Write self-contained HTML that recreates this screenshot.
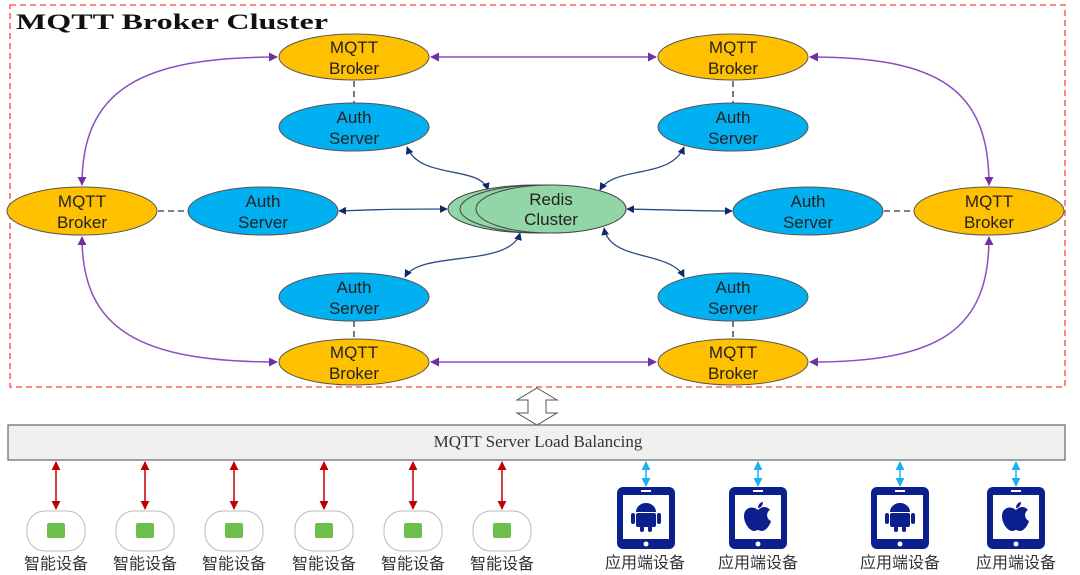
<!DOCTYPE html>
<html><head><meta charset="utf-8"><style>body{margin:0;background:#fff}svg{display:block}</style></head><body>
<svg width="1080" height="575" viewBox="0 0 1080 575" xmlns="http://www.w3.org/2000/svg" font-family="'Liberation Sans','Noto Sans CJK SC',sans-serif">
<defs>
<marker id="mp" viewBox="0 0 10 10" refX="9" refY="5" markerWidth="6" markerHeight="6" orient="auto-start-reverse"><path d="M0,0L10,5L0,10z" fill="#7030a0"/></marker>
<marker id="mn" viewBox="0 0 10 10" refX="9" refY="5" markerWidth="6" markerHeight="6" orient="auto-start-reverse"><path d="M0,0L10,5L0,10z" fill="#0f2a6b"/></marker>
<marker id="mr" viewBox="0 0 10 10" refX="9" refY="5" markerWidth="6" markerHeight="6" orient="auto-start-reverse"><path d="M0,0L10,5L0,10z" fill="#c00000"/></marker>
<marker id="mb" viewBox="0 0 10 10" refX="9" refY="5" markerWidth="6" markerHeight="6" orient="auto-start-reverse"><path d="M0,0L10,5L0,10z" fill="#1ab0f0"/></marker>
</defs>
<rect x="10" y="5" width="1055" height="382" fill="none" stroke="#ff4040" stroke-width="1.3" stroke-dasharray="6,4"/>
<text x="16" y="29" font-family="'Liberation Serif',serif" font-weight="bold" font-size="22" fill="#111" textLength="312" lengthAdjust="spacingAndGlyphs">MQTT Broker Cluster</text>
<g fill="none" stroke="#8a4fbf" stroke-width="1.5" marker-start="url(#mp)" marker-end="url(#mp)">
<path d="M277,57 C140,57 82,90 82,185"/>
<path d="M810,57 C940,57 989,90 989,185"/>
<path d="M82,237 C82,330 140,362 277,362"/>
<path d="M989,237 C989,330 940,362 810,362"/>
<path d="M431,57 L656,57"/>
<path d="M431,362 L656,362"/>
</g>
<g stroke="#333" stroke-width="1.3" stroke-dasharray="6,4">
<line x1="354" y1="81" x2="354" y2="103"/><line x1="733" y1="81" x2="733" y2="103"/>
<line x1="354" y1="321" x2="354" y2="338"/><line x1="733" y1="321" x2="733" y2="338"/>
<line x1="158" y1="211" x2="188" y2="211"/><line x1="884" y1="211" x2="913" y2="211"/>
</g>
<g fill="none" stroke="#2f4a88" stroke-width="1.3" marker-start="url(#mn)" marker-end="url(#mn)">
<path d="M339,211 C390,209 410,209 447,209"/>
<path d="M627,209 C670,210 700,211 732,211"/>
<path d="M407,147 C420,180 480,165 488,190"/>
<path d="M684,147 C670,180 615,165 600,190"/>
<path d="M405,277 C420,250 510,268 520,233"/>
<path d="M684,277 C670,250 610,262 604,228"/>
</g>
<ellipse cx="537" cy="209" rx="89" ry="24" fill="#92d6a8" stroke="#444" stroke-width="1"/>
<ellipse cx="543" cy="209" rx="83" ry="24" fill="#92d6a8" stroke="#444" stroke-width="1"/>
<ellipse cx="551" cy="209" rx="75" ry="24" fill="#92d6a8" stroke="#444" stroke-width="1"/>
<g font-size="17" fill="#222" text-anchor="middle">
<text x="551" y="205">Redis</text><text x="551" y="225">Cluster</text>
</g>
<g fill="#ffc000" stroke="#555" stroke-width="1">
<ellipse cx="354" cy="57" rx="75" ry="23"/><ellipse cx="733" cy="57" rx="75" ry="23"/>
<ellipse cx="82" cy="211" rx="75" ry="24"/><ellipse cx="989" cy="211" rx="75" ry="24"/>
<ellipse cx="354" cy="362" rx="75" ry="23"/><ellipse cx="733" cy="362" rx="75" ry="23"/>
</g>
<g fill="#00b0f0" stroke="#555" stroke-width="1">
<ellipse cx="354" cy="127" rx="75" ry="24"/><ellipse cx="733" cy="127" rx="75" ry="24"/>
<ellipse cx="263" cy="211" rx="75" ry="24"/><ellipse cx="808" cy="211" rx="75" ry="24"/>
<ellipse cx="354" cy="297" rx="75" ry="24"/><ellipse cx="733" cy="297" rx="75" ry="24"/>
</g>
<g font-size="17" fill="#222" text-anchor="middle">
<text x="354" y="53">MQTT</text><text x="354" y="74">Broker</text>
<text x="733" y="53">MQTT</text><text x="733" y="74">Broker</text>
<text x="82" y="207">MQTT</text><text x="82" y="228">Broker</text>
<text x="989" y="207">MQTT</text><text x="989" y="228">Broker</text>
<text x="354" y="358">MQTT</text><text x="354" y="379">Broker</text>
<text x="733" y="358">MQTT</text><text x="733" y="379">Broker</text>
<text x="354" y="123">Auth</text><text x="354" y="144">Server</text>
<text x="733" y="123">Auth</text><text x="733" y="144">Server</text>
<text x="263" y="207">Auth</text><text x="263" y="228">Server</text>
<text x="808" y="207">Auth</text><text x="808" y="228">Server</text>
<text x="354" y="293">Auth</text><text x="354" y="314">Server</text>
<text x="733" y="293">Auth</text><text x="733" y="314">Server</text>
</g>
<path d="M537,388 L557,400 L546,400 L546,413 L557,413 L537,425 L517,413 L528,413 L528,400 L517,400 Z" fill="#fff" stroke="#555" stroke-width="1"/>
<rect x="8" y="425" width="1057" height="35" fill="#f0f0f0" stroke="#666" stroke-width="1.2"/>
<text x="538" y="447" text-anchor="middle" font-family="'Liberation Serif',serif" font-size="17" fill="#333">MQTT Server Load Balancing</text>
<g stroke="#c00000" stroke-width="1.5" marker-start="url(#mr)" marker-end="url(#mr)">
<line x1="56" y1="462" x2="56" y2="509"/><line x1="145" y1="462" x2="145" y2="509"/>
<line x1="234" y1="462" x2="234" y2="509"/><line x1="324" y1="462" x2="324" y2="509"/>
<line x1="413" y1="462" x2="413" y2="509"/><line x1="502" y1="462" x2="502" y2="509"/>
</g>
<g>
<g transform="translate(56,0)"><rect x="-29" y="511" width="58" height="40" rx="18" fill="#fff" stroke="#bbb"/><rect x="-9" y="523" width="18" height="15" rx="2" fill="#6cbf4a"/></g>
<g transform="translate(145,0)"><rect x="-29" y="511" width="58" height="40" rx="18" fill="#fff" stroke="#bbb"/><rect x="-9" y="523" width="18" height="15" rx="2" fill="#6cbf4a"/></g>
<g transform="translate(234,0)"><rect x="-29" y="511" width="58" height="40" rx="18" fill="#fff" stroke="#bbb"/><rect x="-9" y="523" width="18" height="15" rx="2" fill="#6cbf4a"/></g>
<g transform="translate(324,0)"><rect x="-29" y="511" width="58" height="40" rx="18" fill="#fff" stroke="#bbb"/><rect x="-9" y="523" width="18" height="15" rx="2" fill="#6cbf4a"/></g>
<g transform="translate(413,0)"><rect x="-29" y="511" width="58" height="40" rx="18" fill="#fff" stroke="#bbb"/><rect x="-9" y="523" width="18" height="15" rx="2" fill="#6cbf4a"/></g>
<g transform="translate(502,0)"><rect x="-29" y="511" width="58" height="40" rx="18" fill="#fff" stroke="#bbb"/><rect x="-9" y="523" width="18" height="15" rx="2" fill="#6cbf4a"/></g>
</g>
<g font-size="16" fill="#333" text-anchor="middle">
<text x="56" y="569">智能设备</text><text x="145" y="569">智能设备</text><text x="234" y="569">智能设备</text>
<text x="324" y="569">智能设备</text><text x="413" y="569">智能设备</text><text x="502" y="569">智能设备</text>
<text x="645" y="568">应用端设备</text><text x="758" y="568">应用端设备</text>
<text x="900" y="568">应用端设备</text><text x="1016" y="568">应用端设备</text>
</g>
<g stroke="#1ab0f0" stroke-width="1.5" marker-start="url(#mb)" marker-end="url(#mb)">
<line x1="646" y1="462" x2="646" y2="486"/><line x1="758" y1="462" x2="758" y2="486"/>
<line x1="900" y1="462" x2="900" y2="486"/><line x1="1016" y1="462" x2="1016" y2="486"/>
</g>
<g fill="#0b1f8f">
<g transform="translate(646,0)"><rect x="-29" y="487" width="58" height="62" rx="6"/><rect x="-23" y="495" width="46" height="44" fill="#fff"/><circle cx="0" cy="544" r="2.5" fill="#fff"/><rect x="-5" y="490" width="10" height="2" fill="#fff"/>
<path d="M-10,512 a10,9 0 0 1 20,0z"/><rect x="-10" y="513" width="20" height="14" rx="2"/><rect x="-15" y="513" width="4" height="11" rx="2"/><rect x="11" y="513" width="4" height="11" rx="2"/><rect x="-6" y="526" width="4" height="6" rx="2"/><rect x="2" y="526" width="4" height="6" rx="2"/></g>
<g transform="translate(758,0)"><rect x="-29" y="487" width="58" height="62" rx="6"/><rect x="-23" y="495" width="46" height="44" fill="#fff"/><circle cx="0" cy="544" r="2.5" fill="#fff"/><rect x="-5" y="490" width="10" height="2" fill="#fff"/>
<path d="M0,510 C-6,505 -14,508 -14,516 C-14,524 -8,531 -4,531 C-2,531 -1,530 0,530 C1,530 2,531 4,531 C8,531 12,525 13,521 C8,519 8,512 12,510 C9,506 4,506 0,510z"/><path d="M0,508 C0,504 3,502 5,502 C5,505 3,508 0,508z"/></g>
<g transform="translate(900,0)"><rect x="-29" y="487" width="58" height="62" rx="6"/><rect x="-23" y="495" width="46" height="44" fill="#fff"/><circle cx="0" cy="544" r="2.5" fill="#fff"/><rect x="-5" y="490" width="10" height="2" fill="#fff"/>
<path d="M-10,512 a10,9 0 0 1 20,0z"/><rect x="-10" y="513" width="20" height="14" rx="2"/><rect x="-15" y="513" width="4" height="11" rx="2"/><rect x="11" y="513" width="4" height="11" rx="2"/><rect x="-6" y="526" width="4" height="6" rx="2"/><rect x="2" y="526" width="4" height="6" rx="2"/></g>
<g transform="translate(1016,0)"><rect x="-29" y="487" width="58" height="62" rx="6"/><rect x="-23" y="495" width="46" height="44" fill="#fff"/><circle cx="0" cy="544" r="2.5" fill="#fff"/><rect x="-5" y="490" width="10" height="2" fill="#fff"/>
<path d="M0,510 C-6,505 -14,508 -14,516 C-14,524 -8,531 -4,531 C-2,531 -1,530 0,530 C1,530 2,531 4,531 C8,531 12,525 13,521 C8,519 8,512 12,510 C9,506 4,506 0,510z"/><path d="M0,508 C0,504 3,502 5,502 C5,505 3,508 0,508z"/></g>
</g>
</svg>
</body></html>
